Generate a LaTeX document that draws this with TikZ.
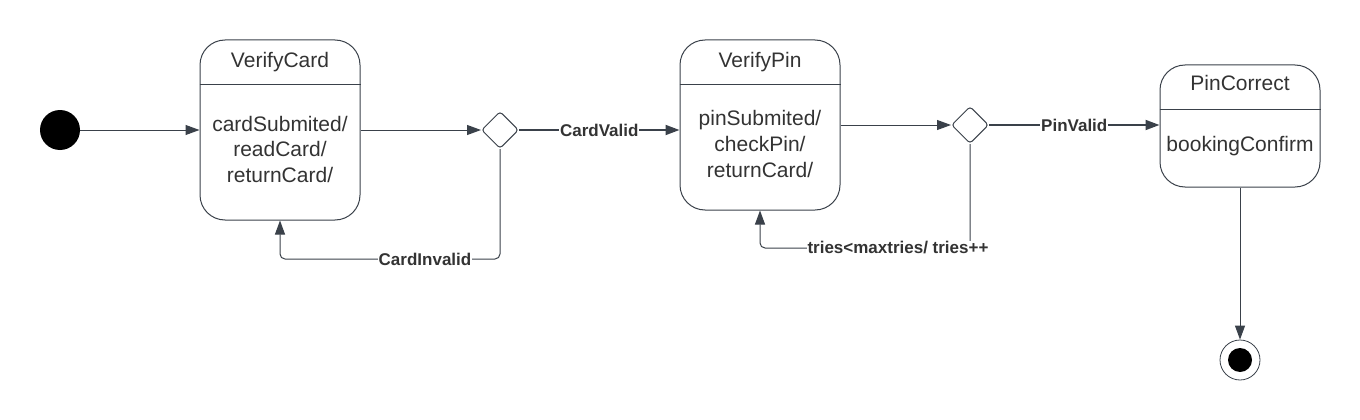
\documentclass[tikz,border=0pt]{standalone}
\usepackage{fontspec}
\setmainfont{Liberation Sans}
\usetikzlibrary{arrows.meta,shapes.geometric}
\definecolor{ln}{HTML}{3A414A}
\definecolor{tx}{HTML}{333333}
\tikzset{
  statebox/.style={draw=ln, line width=1pt, rounded corners=25pt, minimum width=160pt, inner sep=0pt},
  dec/.style={draw=ln, line width=1pt, shape=diamond, inner sep=0pt, minimum size=37pt, rounded corners=3pt, fill=white},
  ttl/.style={text=tx, font=\fontsize{21}{25}\selectfont, anchor=base, inner sep=0pt},
  lbl/.style={text=tx, font=\fontsize{17}{20}\selectfont\bfseries, fill=white, inner sep=1pt},
  arr/.style={draw=ln, line width=1pt, -{Triangle[length=14pt,width=10pt]}},
  arrb/.style={draw=ln, line width=1.8pt, -{Triangle[length=14pt,width=10pt]}},
}
\begin{document}
\begin{tikzpicture}[x=1pt,y=-1pt]
\useasboundingbox (0,0) rectangle (1360,420);
% initial
\node[circle, fill=black, minimum size=40pt, inner sep=0pt] (init) at (60,130) {};
% VerifyCard
\node[statebox, minimum height=180pt] (vc) at (280,130) {};
\draw[ln, line width=1pt] (vc.west |- 0,84) -- (vc.east |- 0,84);
\node[ttl] (vct) at (280,67) {VerifyCard};
\node[ttl] (vc1) at (280,131) {cardSubmited/};
\node[ttl] (vc2) at (280,156.5) {readCard/};
\node[ttl] (vc3) at (280,182) {returnCard/};
% decision 1
\node[dec] (d1) at (500,130) {};
% VerifyPin
\node[statebox, minimum height=170pt] (vp) at (760,125) {};
\draw[ln, line width=1pt] (vp.west |- 0,84) -- (vp.east |- 0,84);
\node[ttl] (vpt) at (760,67) {VerifyPin};
\node[ttl] (vp1) at (760,125) {pinSubmited/};
\node[ttl] (vp2) at (760,151) {checkPin/};
\node[ttl] (vp3) at (760,177) {returnCard/};
% decision 2
\node[dec] (d2) at (970,125) {};
% PinCorrect
\node[statebox, minimum height=122pt] (pc) at (1240,126) {};
\draw[ln, line width=1pt] (pc.west |- 0,109) -- (pc.east |- 0,109);
\node[ttl] (pct) at (1240,91) {PinCorrect};
\node[ttl] (pc1) at (1240,151) {bookingConfirm};
% final
\node[circle, draw=ln, line width=0.8pt, fill=white, minimum size=40pt, inner sep=0pt] (fin) at (1240,360) {};
\node[circle, fill=black, minimum size=24pt, inner sep=0pt] (fini) at (fin) {};
% connectors
\draw[arr] (init) -- (vc.west |- init);
\draw[arr] (vc.east |- d1) -- (d1.west);
\draw[arrb] (d1.east) -- node[lbl] (lcv) {CardValid} (vp.west |- d1);
\draw[arr] (vp.east |- d2) -- (d2.west);
\draw[arrb] (d2.east) -- node[lbl] (lpv) {PinValid} (pc.west |- d2);
\draw[arr] (pc.south) -- (fin.north);
\coordinate (c1a) at (500,259);
\coordinate (c1b) at (280,259);
\draw[arr, rounded corners=5pt] (d1.south) -- (c1a) -- (c1b) -- (vc.south);
\node[lbl] (lci) at (425,259) {CardInvalid};
\coordinate (c2a) at (970,248);
\coordinate (c2b) at (760,248);
\draw[arr, rounded corners=5pt] (d2.south) -- (c2a) -- (c2b) -- (vp.south);
\node[lbl] (ltr) at (898,248) {tries<maxtries/ tries++};
\end{tikzpicture}
\end{document}
